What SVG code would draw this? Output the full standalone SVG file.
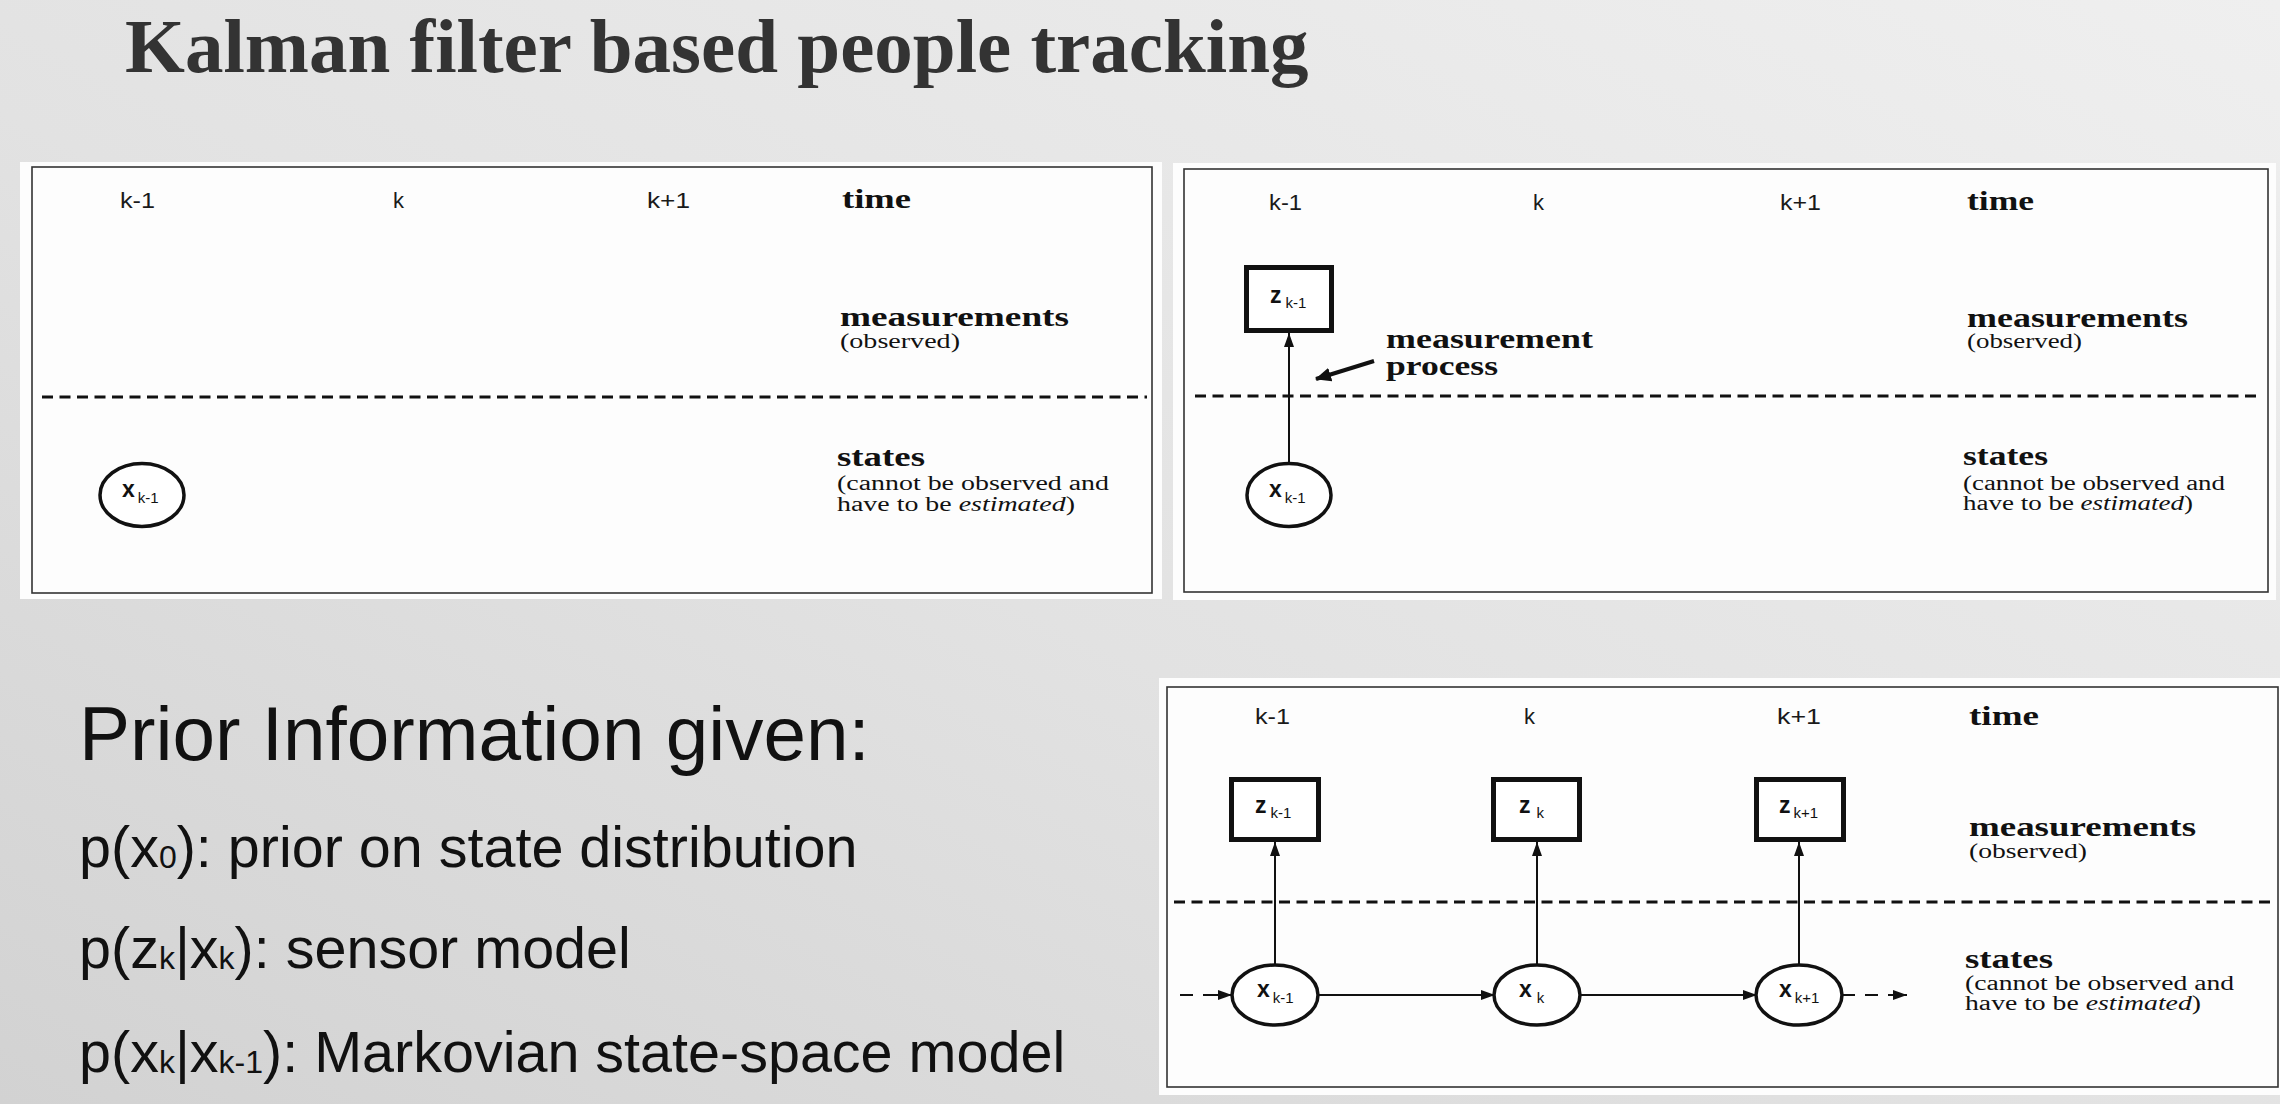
<svg xmlns="http://www.w3.org/2000/svg" width="2280" height="1104" viewBox="0 0 2280 1104">
  <style>
    .title { font-family: "Liberation Serif", "Times New Roman", serif; font-weight: bold; font-size: 77px; fill: #333333; }
    .body { font-family: "Liberation Sans", Arial, sans-serif; fill: #111111; }
    .h1 { font-size: 76.5px; }
    .item { font-size: 57.5px; }
    .sub { font-size: 32px; }
    .sheet { fill: #fdfdfd; }
    .frame { fill: none; stroke: #333333; stroke-width: 1.6; }
    .tick { font-family: "Liberation Sans", Arial, sans-serif; font-size: 22px; fill: #1a1a1a; }
    .head { font-family: "Liberation Serif", "Times New Roman", serif; font-weight: bold; font-size: 27px; fill: #111111; }
    .note { font-family: "Liberation Serif", "Times New Roman", serif; font-size: 20px; fill: #111111; }
    .sep { stroke: #111111; stroke-width: 3; stroke-dasharray: 11 6.5; fill: none; }
    .state { fill: #ffffff; stroke: #111111; stroke-width: 3.5; }
    .meas { fill: #ffffff; stroke: #111111; stroke-width: 5; }
    .var { font-family: "Liberation Sans", Arial, sans-serif; font-weight: bold; font-size: 23px; fill: #111111; }
    .idx { font-family: "Liberation Sans", Arial, sans-serif; font-weight: normal; font-size: 15px; }
    .edge { stroke: #111111; stroke-width: 2; fill: none; }
    .pointer { stroke: #111111; stroke-width: 4; fill: none; }
  </style>
  <defs>
    <linearGradient id="bg" x1="1" y1="0" x2="0" y2="1">
      <stop offset="0" stop-color="#efefef"/>
      <stop offset="0.55" stop-color="#e2e2e2"/>
      <stop offset="1" stop-color="#d2d2d2"/>
    </linearGradient>
    <marker id="arrow" viewBox="0 0 14 10" refX="14" refY="5" markerWidth="14" markerHeight="10" markerUnits="userSpaceOnUse" orient="auto">
      <path d="M0,0 L14,5 L0,10 Z" fill="#111111"/>
    </marker>
    <marker id="arrow-bold" viewBox="0 0 16 14" refX="15" refY="7" markerWidth="16" markerHeight="14" markerUnits="userSpaceOnUse" orient="auto">
      <path d="M0,0 L16,7 L0,14 Z" fill="#111111"/>
    </marker>
  </defs>

  <!-- slide background -->
  <rect x="0" y="0" width="2280" height="1104" fill="url(#bg)"/>

  <text class="title" x="125" y="72">Kalman filter based people tracking</text>

  <!-- panel 1: first state only -->
  <g id="panel-1">
    <rect class="sheet" x="20" y="162" width="1142" height="437"/>
    <rect class="frame" x="32" y="167" width="1120" height="426"/>
    <text class="tick" x="120" y="208" textLength="35" lengthAdjust="spacingAndGlyphs">k-1</text>
    <text class="tick" x="393" y="208">k</text>
    <text class="tick" x="647" y="208" textLength="43" lengthAdjust="spacingAndGlyphs">k+1</text>
    <text class="head" x="842" y="208" font-size="25" textLength="69" lengthAdjust="spacingAndGlyphs">time</text>
    <text class="head" x="840" y="326" textLength="229" lengthAdjust="spacingAndGlyphs">measurements</text>
    <text class="note" x="840" y="348" textLength="120" lengthAdjust="spacingAndGlyphs">(observed)</text>
    <line class="sep" x1="42" y1="397" x2="1147" y2="397"/>
    <text class="head" x="837" y="466" textLength="88" lengthAdjust="spacingAndGlyphs">states</text>
    <text class="note" x="837" y="490" textLength="272" lengthAdjust="spacingAndGlyphs">(cannot be observed and</text>
    <text class="note" x="837" y="511" textLength="238" lengthAdjust="spacingAndGlyphs">have to be <tspan font-style="italic">estimated</tspan>)</text>
    <g id="p1-x-km1">
      <ellipse class="state" cx="142" cy="495" rx="42" ry="31.5"/>
      <text class="var" x="122" y="497">x<tspan class="idx" dx="3" dy="6">k-1</tspan></text>
    </g>
  </g>

  <!-- panel 2: measurement process -->
  <g id="panel-2">
    <rect class="sheet" x="1173" y="163" width="1103" height="437"/>
    <rect class="frame" x="1184" y="169" width="1084" height="423"/>
    <text class="tick" x="1269" y="210" textLength="33" lengthAdjust="spacingAndGlyphs">k-1</text>
    <text class="tick" x="1533" y="210">k</text>
    <text class="tick" x="1780" y="210" textLength="41" lengthAdjust="spacingAndGlyphs">k+1</text>
    <text class="head" x="1967" y="210" font-size="25" textLength="67" lengthAdjust="spacingAndGlyphs">time</text>
    <text class="head" x="1967" y="327" textLength="221" lengthAdjust="spacingAndGlyphs">measurements</text>
    <text class="note" x="1967" y="348" textLength="115" lengthAdjust="spacingAndGlyphs">(observed)</text>
    <line class="sep" x1="1195" y1="396" x2="2260" y2="396"/>
    <text class="head" x="1963" y="465" textLength="85" lengthAdjust="spacingAndGlyphs">states</text>
    <text class="note" x="1963" y="490" textLength="262" lengthAdjust="spacingAndGlyphs">(cannot be observed and</text>
    <text class="note" x="1963" y="510" textLength="230" lengthAdjust="spacingAndGlyphs">have to be <tspan font-style="italic">estimated</tspan>)</text>
    <text class="head" x="1386" y="348" textLength="207" lengthAdjust="spacingAndGlyphs">measurement</text>
    <text class="head" x="1386" y="375" textLength="112" lengthAdjust="spacingAndGlyphs">process</text>
    <g id="p2-connectors">
      <line class="edge" x1="1289" y1="463" x2="1289" y2="333" marker-end="url(#arrow)"/>
      <line class="pointer" x1="1374" y1="361" x2="1316" y2="379" marker-end="url(#arrow-bold)"/>
    </g>
    <g id="p2-z-km1">
      <rect class="meas" x="1246.5" y="267.5" width="85" height="63"/>
      <text class="var" x="1270" y="303">z<tspan class="idx" dx="4" dy="5">k-1</tspan></text>
    </g>
    <g id="p2-x-km1">
      <ellipse class="state" cx="1289" cy="495" rx="42" ry="31.5"/>
      <text class="var" x="1269" y="497">x<tspan class="idx" dx="3" dy="6">k-1</tspan></text>
    </g>
  </g>

  <!-- bullet list -->
  <g id="prior-info" class="body">
    <text class="h1" x="79" y="760">Prior Information given:</text>
    <text class="item" x="79" y="867">p(x<tspan class="sub" dy="1">0</tspan><tspan dy="-1">): prior on state distribution</tspan></text>
    <text class="item" x="79" y="968">p(z<tspan class="sub" dy="1">k</tspan><tspan dy="-1">|x</tspan><tspan class="sub" dy="1">k</tspan><tspan dy="-1">): sensor model</tspan></text>
    <text class="item" x="79" y="1072">p(x<tspan class="sub" dy="1">k</tspan><tspan dy="-1">|x</tspan><tspan class="sub" dy="1">k-1</tspan><tspan dy="-1">): Markovian state-space model</tspan></text>
  </g>

  <!-- panel 3: full chain -->
  <g id="panel-3">
    <rect class="sheet" x="1159" y="678" width="1121" height="417"/>
    <rect class="frame" x="1167" y="687" width="1111" height="400"/>
    <text class="tick" x="1255" y="724" textLength="35" lengthAdjust="spacingAndGlyphs">k-1</text>
    <text class="tick" x="1524" y="724">k</text>
    <text class="tick" x="1777" y="724" textLength="44" lengthAdjust="spacingAndGlyphs">k+1</text>
    <text class="head" x="1969" y="725" font-size="25" textLength="70" lengthAdjust="spacingAndGlyphs">time</text>
    <text class="head" x="1969" y="836" textLength="227" lengthAdjust="spacingAndGlyphs">measurements</text>
    <text class="note" x="1969" y="858" textLength="118" lengthAdjust="spacingAndGlyphs">(observed)</text>
    <line class="sep" x1="1174" y1="902" x2="2271" y2="902"/>
    <text class="head" x="1965" y="968" textLength="88" lengthAdjust="spacingAndGlyphs">states</text>
    <text class="note" x="1965" y="990" textLength="269" lengthAdjust="spacingAndGlyphs">(cannot be observed and</text>
    <text class="note" x="1965" y="1010" textLength="236" lengthAdjust="spacingAndGlyphs">have to be <tspan font-style="italic">estimated</tspan>)</text>

    <g id="p3-connectors">
      <line class="edge" x1="1275" y1="965" x2="1275" y2="842" marker-end="url(#arrow)"/>
      <line class="edge" x1="1537" y1="965" x2="1537" y2="842" marker-end="url(#arrow)"/>
      <line class="edge" x1="1799" y1="965" x2="1799" y2="842" marker-end="url(#arrow)"/>
      <line class="edge" x1="1318" y1="995" x2="1495" y2="995" marker-end="url(#arrow)"/>
      <line class="edge" x1="1580" y1="995" x2="1757" y2="995" marker-end="url(#arrow)"/>
      <path class="edge" d="M1180,995 H1232" stroke-dasharray="13 10 40" marker-end="url(#arrow)"/>
      <path class="edge" d="M1842,995 H1907" stroke-dasharray="13 10 13 10 100" marker-end="url(#arrow)"/>
    </g>

    <g id="p3-z-km1">
      <rect class="meas" x="1231.5" y="779.5" width="87" height="60"/>
      <text class="var" x="1255" y="813">z<tspan class="idx" dx="4" dy="5">k-1</tspan></text>
    </g>
    <g id="p3-z-k">
      <rect class="meas" x="1493.5" y="779.5" width="86" height="60"/>
      <text class="var" x="1519" y="813">z<tspan class="idx" dx="6" dy="5">k</tspan></text>
    </g>
    <g id="p3-z-kp1">
      <rect class="meas" x="1756.5" y="779.5" width="87" height="60"/>
      <text class="var" x="1779" y="813">z<tspan class="idx" dx="3" dy="5">k+1</tspan></text>
    </g>
    <g id="p3-x-km1">
      <ellipse class="state" cx="1275" cy="995" rx="43" ry="30"/>
      <text class="var" x="1257" y="997">x<tspan class="idx" dx="3" dy="6">k-1</tspan></text>
    </g>
    <g id="p3-x-k">
      <ellipse class="state" cx="1537" cy="995" rx="43" ry="30"/>
      <text class="var" x="1519" y="997">x<tspan class="idx" dx="5" dy="6">k</tspan></text>
    </g>
    <g id="p3-x-kp1">
      <ellipse class="state" cx="1799" cy="995" rx="43" ry="30"/>
      <text class="var" x="1779" y="997">x<tspan class="idx" dx="3" dy="6">k+1</tspan></text>
    </g>
  </g>
</svg>
